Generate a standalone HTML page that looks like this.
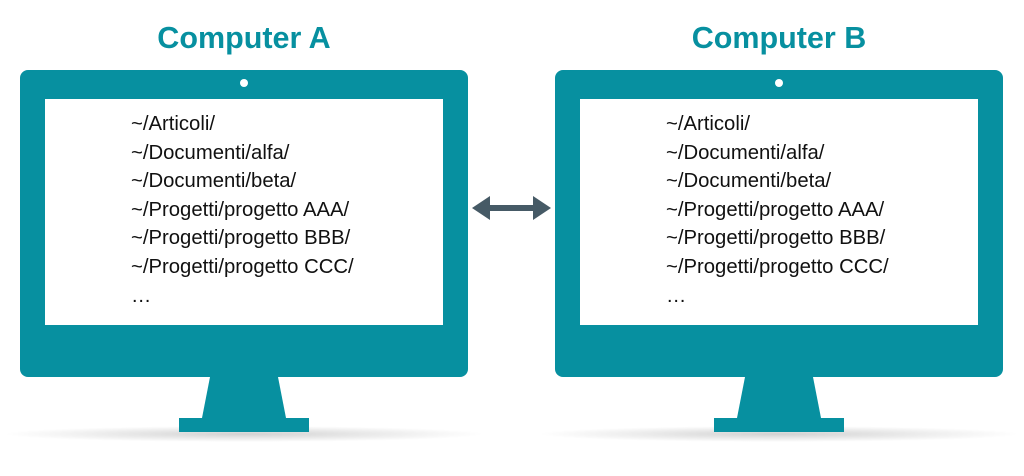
<!DOCTYPE html>
<html><head><style>
body{margin:0;width:1024px;height:476px;background:#fff;overflow:hidden;position:relative;font-family:"Liberation Sans",Arial,sans-serif}
.t{position:absolute;top:21px;width:300px;text-align:center;font-weight:bold;font-size:30.5px;color:#0790a0}
.txt{position:absolute;font-size:20.3px;color:#111;line-height:28.6px}
</style></head><body>
<svg width="1024" height="476" style="position:absolute;left:0;top:0">
<defs><radialGradient id="sh" cx="50%" cy="50%" r="50%"><stop offset="0" stop-color="#000" stop-opacity="0.18"/><stop offset="1" stop-color="#000" stop-opacity="0"/></radialGradient></defs>
<g id="m">
<ellipse cx="244" cy="434" rx="240" ry="8" fill="url(#sh)"/>
<rect x="20" y="70" width="448" height="307" rx="8" fill="#0790a0"/>
<rect x="45" y="99" width="398" height="226" fill="#fff"/>
<circle cx="244" cy="83" r="4" fill="#fff"/>
<polygon points="210,377 278,377 286,418 202,418" fill="#0790a0"/>
<rect x="179" y="418" width="130" height="14" fill="#0790a0"/>
</g>
<use href="#m" x="535"/>
<polygon points="472,208 490,196 490,205 533,205 533,196 551,208 533,220 533,211 490,211 490,220" fill="#465a66"/>
</svg>
<div class="t" style="left:94px">Computer A</div>
<div class="t" style="left:629px">Computer B</div>
<div class="txt" style="left:131px;top:110px">~/Articoli/<br>~/Documenti/alfa/<br>~/Documenti/beta/<br>~/Progetti/progetto AAA/<br>~/Progetti/progetto BBB/<br>~/Progetti/progetto CCC/<br>…</div>
<div class="txt" style="left:666px;top:110px">~/Articoli/<br>~/Documenti/alfa/<br>~/Documenti/beta/<br>~/Progetti/progetto AAA/<br>~/Progetti/progetto BBB/<br>~/Progetti/progetto CCC/<br>…</div>
</body></html>
